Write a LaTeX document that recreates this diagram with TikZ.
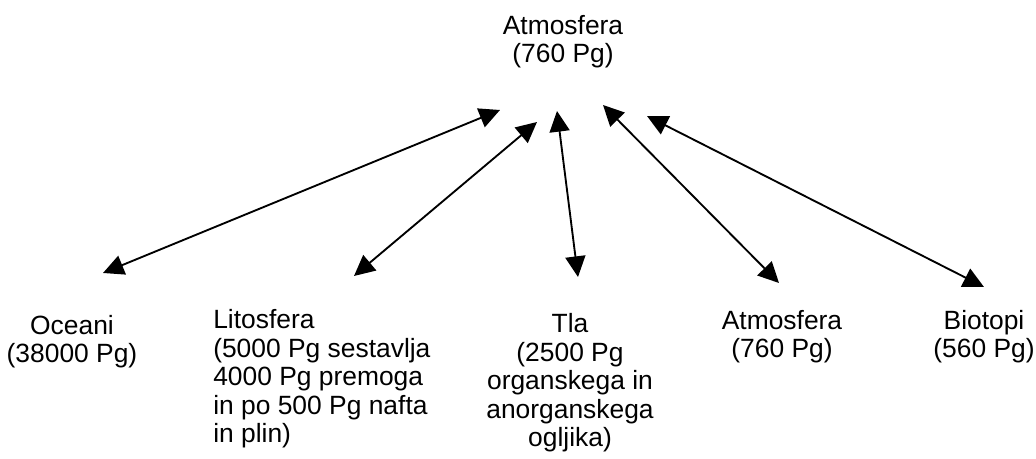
\documentclass[tikz,border=0pt]{standalone}
\usepackage{fontspec}
\setmainfont{Liberation Sans}
\usetikzlibrary{arrows.meta}
\begin{document}
\begin{tikzpicture}[x=0.75pt,y=-0.75pt,
  lbl/.style={inner sep=0pt,font=\fontsize{19.8pt}{21.4pt}\selectfont},
  dbl/.style={line width=1.4pt,{Triangle[length=15.5pt,width=15pt]}-{Triangle[length=15.5pt,width=15pt]}}]
\useasboundingbox (0,0) rectangle (1036,459);
\node[lbl,align=center,anchor=base] (atm) at (563,63) {Atmosfera\\(760 Pg)};
\node[lbl,align=center,anchor=base] (oce) at (72,363) {Oceani\\(38000 Pg)};
\node[lbl,align=left,anchor=base west] (lit) at (213,443) {Litosfera\\(5000 Pg sestavlja\\4000 Pg premoga\\in po 500 Pg nafta\\in plin)};
\node[lbl,align=center,anchor=base] (tla) at (570,447) {Tla\\(2500 Pg\\organskega in\\anorganskega\\ogljika)};
\node[lbl,align=center,anchor=base] (atm2) at (782,358) {Atmosfera\\(760 Pg)};
\node[lbl,align=center,anchor=base] (bio) at (984,358) {Biotopi\\(560 Pg)};
% arrow ends
\coordinate (a1) at (500,110); \coordinate (o1) at (103,273);
\coordinate (a2) at (537,122); \coordinate (l1) at (354,276);
\coordinate (a3) at (557,111); \coordinate (t1) at (578,277);
\coordinate (a4) at (603,105); \coordinate (m1) at (779,283);
\coordinate (a5) at (647,116); \coordinate (b1) at (984,287);
\draw[dbl] (o1) -- (a1);
\draw[dbl] (l1) -- (a2);
\draw[dbl] (t1) -- (a3);
\draw[dbl] (m1) -- (a4);
\draw[dbl] (b1) -- (a5);
\end{tikzpicture}
\end{document}
